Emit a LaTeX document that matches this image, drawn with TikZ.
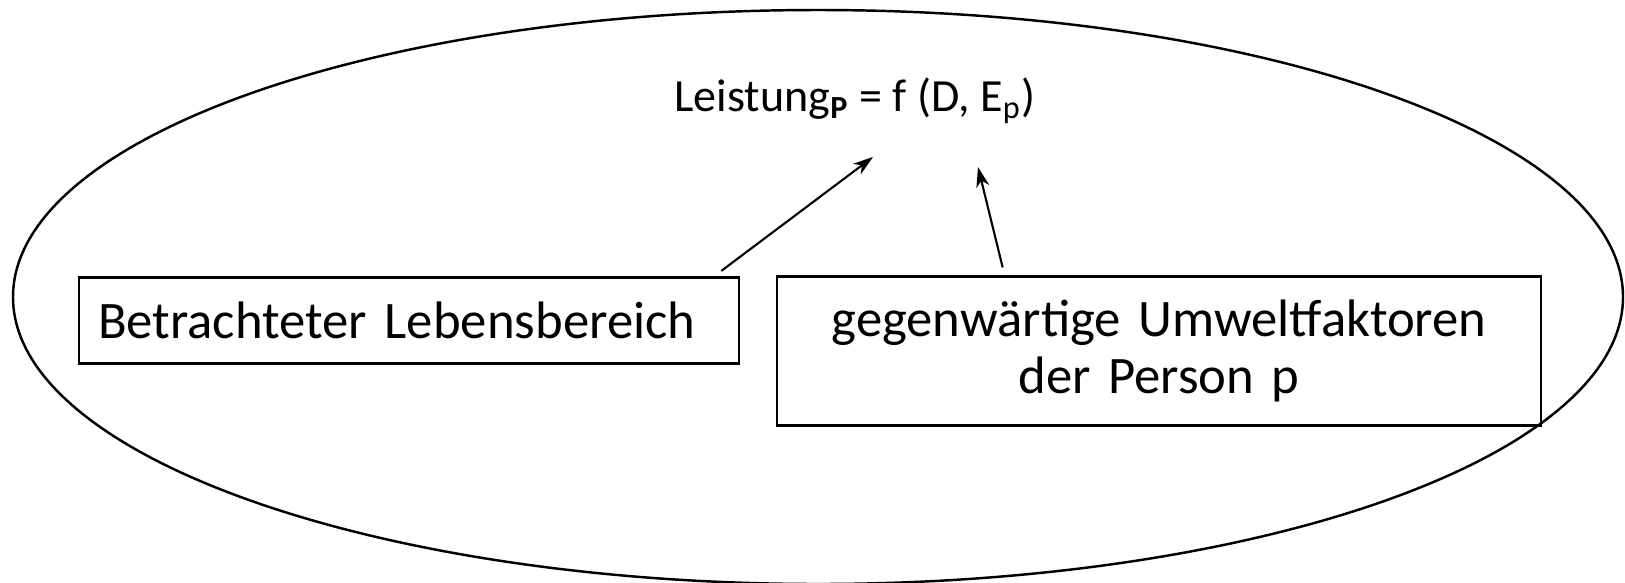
\documentclass[tikz,border=0pt]{standalone}
\usepackage{fontspec}
\setmainfont{Carlito}
\usetikzlibrary{arrows.meta}
\usetikzlibrary{positioning}
\tikzset{kasten/.style = {draw, line width=0.75pt, inner xsep=0.28cm, inner ysep=0pt,
                          font=\fontsize{15}{16}\selectfont}}
\tikzset{pfeil/.style = {-{Stealth[length=0.2cm, width=0.13cm, inset=0.06cm]}, line width=0.6pt}}

\begin{document}
\begin{tikzpicture}
	\useasboundingbox (0,0) rectangle (16.25,5.82);
	\draw[line width=0.7pt] (8.18,2.85) ellipse [x radius=8.05, y radius=2.87];
	\node[anchor=base, inner sep=0pt, font=\fontsize{13.1}{15}\selectfont] (formel) at (8.55,4.703) {Leistung\textsubscript{\textbf{P}} = f (D, E\textsubscript{p})};
	\node[kasten, inner xsep=0.19cm, minimum width=6.6cm, minimum height=0.86cm, text width=6.22cm, align=left] (bereich) at (4.09,2.614) {Betrachteter Lebensbereich};
	\node[kasten, minimum width=7.64cm, minimum height=1.49cm, text width=7.08cm, align=center] (umwelt) at (11.59,2.31) {gegenwärtige Umweltfaktoren\\der Person p};
	\draw[pfeil] ([shift={(-0.19,0.054)}]bereich.north east) -- ([shift={(0.18,-0.453)}]formel.base);
	\draw[pfeil] ([shift={(2.27,0.077)}]umwelt.north west) -- ([shift={(1.23,-0.553)}]formel.base);
\end{tikzpicture}
\end{document}
